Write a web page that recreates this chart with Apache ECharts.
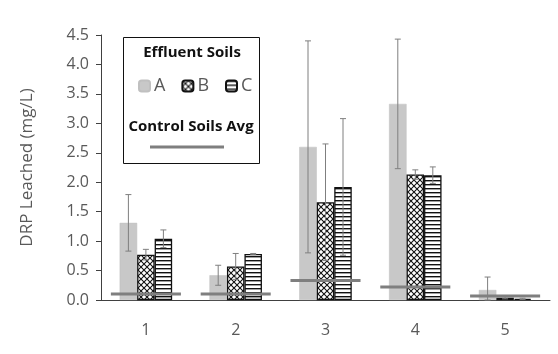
<!DOCTYPE html>
<html><head><meta charset="utf-8">
<script src="https://cdn.jsdelivr.net/npm/echarts@6/dist/echarts.min.js"></script>
<style>html,body{margin:0;padding:0;background:#fff}#c{width:558px;height:354px}</style>
</head><body><div id="c"></div>
<script>
const categories = ['1','2','3','4','5'];
const yTicks = [0,0.5,1,1.5,2,2.5,3,3.5,4,4.5];
const effA = [1.31, 0.42, 2.60, 3.33, 0.17];
const effB = [0.77, 0.57, 1.66, 2.13, 0.04];
const effC = [1.04, 0.78, 1.92, 2.12, 0.02];
const errA = [0.48, 0.17, 1.80, 1.10, 0.22];
const errB = [0.09, 0.22, 0.99, 0.08, 0.02];
const errC = [0.15, 0.01, 1.16, 0.14, 0.01];
const controlAvg = [0.10, 0.10, 0.33, 0.22, 0.07];

const FONT = 'Open Sans';
const BW = 17.5;

function crossPattern(){
  const c = document.createElement('canvas'); c.width = 6; c.height = 6;
  const g = c.getContext('2d');
  g.fillStyle = '#fff'; g.fillRect(0,0,6,6);
  g.strokeStyle = '#111'; g.lineWidth = 1.1;
  g.beginPath(); g.moveTo(0,0); g.lineTo(6,6); g.moveTo(6,0); g.lineTo(0,6);
  g.stroke();
  return c;
}
function hPattern(){
  const c = document.createElement('canvas'); c.width = 4; c.height = 4;
  const g = c.getContext('2d');
  g.fillStyle = '#fff'; g.fillRect(0,0,4,4);
  g.fillStyle = '#111'; g.fillRect(0,0,4,1.4);
  return c;
}

function errSeries(vals, errs, offset){
  return {
    type: 'custom', z: 5,
    data: vals.map((v,i)=>[i, v, errs[i]]),
    encode: {x:0, y:1},
    renderItem: function(params, api){
      const i = api.value(0), v = api.value(1), e = api.value(2);
      const top = api.coord([i, v + e]);
      const bot = api.coord([i, Math.max(0, v - e)]);
      const x = top[0] + offset;
      const cap = 3;
      const st = {stroke:'#7f7f7f', lineWidth:1};
      return {type:'group', children:[
        {type:'line', shape:{x1:x, y1:top[1], x2:x, y2:bot[1]}, style:st},
        {type:'line', shape:{x1:x-cap, y1:top[1], x2:x+cap, y2:top[1]}, style:st},
        {type:'line', shape:{x1:x-cap, y1:bot[1], x2:x+cap, y2:bot[1]}, style:st}
      ]};
    },
    silent: true, tooltip:{show:false}
  };
}

const chart = echarts.init(document.getElementById('c'), null, {renderer:'canvas'});
const cross = crossPattern(), hl = hPattern();
chart.setOption({
  backgroundColor: '#fff',
  animation: false,
  grid: {left: 101, right: 8, top: 35, bottom: 54},
  xAxis: {
    type: 'category', data: categories,
    axisLine: {lineStyle: {color: '#404040', width: 1}},
    axisTick: {alignWithLabel: true, length: 5, lineStyle:{color:'#404040'}},
    axisLabel: {fontFamily: FONT, fontSize: 16, color: '#595959', margin: 22}
  },
  yAxis: {
    type: 'value', min: 0, max: 4.5, interval: 0.5,
    name: 'DRP Leached (mg/L)', nameLocation: 'middle', nameGap: 65,
    nameTextStyle: {fontFamily: FONT, fontSize: 17, color: '#595959'},
    splitLine: {show: false},
    axisLine: {show: true, lineStyle: {color: '#404040', width: 1}},
    axisTick: {show: true, length: 5, lineStyle:{color:'#404040'}},
    axisLabel: {fontFamily: FONT, fontSize: 16, color: '#595959', margin: 12,
      formatter: v => yTicks.indexOf(v) >= 0 ? v.toFixed(1) : ''}
  },
  legend: {
    data: ['A','B','C'], left: 133, top: 72, itemWidth: 11, itemHeight: 11, itemGap: 16,
    textStyle: {fontFamily: FONT, fontSize: 18, color: '#595959', padding:[0,0,0,-1]},
    selectedMode: false
  },
  series: [
    {name:'A', type:'bar', data: effA, barWidth: BW, barGap: '0%',
      itemStyle:{color:'#c8c8c8', borderColor:'#c0c0c0', borderWidth:0.5}},
    {name:'B', type:'bar', data: effB, barWidth: BW, barGap: '0%',
      itemStyle:{color:{image: cross, repeat:'repeat'}, borderColor:'#111', borderWidth:1.3}},
    {name:'C', type:'bar', data: effC, barWidth: BW, barGap: '0%',
      itemStyle:{color:{image: hl, repeat:'repeat'}, borderColor:'#111', borderWidth:1.3}},
    errSeries(effA, errA, -BW),
    errSeries(effB, errB, 0),
    errSeries(effC, errC, BW),
    {
      name: 'Control Soils Avg', type: 'custom', z: 6,
      data: controlAvg.map((v,i)=>[i,v]), encode:{x:0,y:1},
      renderItem: function(params, api){
        const p = api.coord([api.value(0), api.value(1)]);
        const w = api.size([1,0])[0] * 0.78;
        return {type:'line', shape:{x1:p[0]-w/2, y1:p[1], x2:p[0]+w/2, y2:p[1]},
          style:{stroke:'#7f7f7f', lineWidth:3}};
      }
    }
  ],
  graphic: [
    {type:'rect', left:123, top:37, shape:{width:136, height:126},
      style:{fill:'#fff', stroke:'#111', lineWidth:1}, z: -1},
    {type:'text', x:192, y:53, style:{text:'Effluent Soils', fontFamily:FONT, fontWeight:'bold',
      fontSize:15, fill:'#111', align:'center', verticalAlign:'middle'}},
    {type:'text', x:191, y:127, style:{text:'Control Soils Avg', fontFamily:FONT, fontWeight:'bold',
      fontSize:15, fill:'#111', align:'center', verticalAlign:'middle'}},
    {type:'line', shape:{x1:150, y1:147, x2:224, y2:147}, style:{stroke:'#7f7f7f', lineWidth:3}}
  ]
});
</script></body></html>
